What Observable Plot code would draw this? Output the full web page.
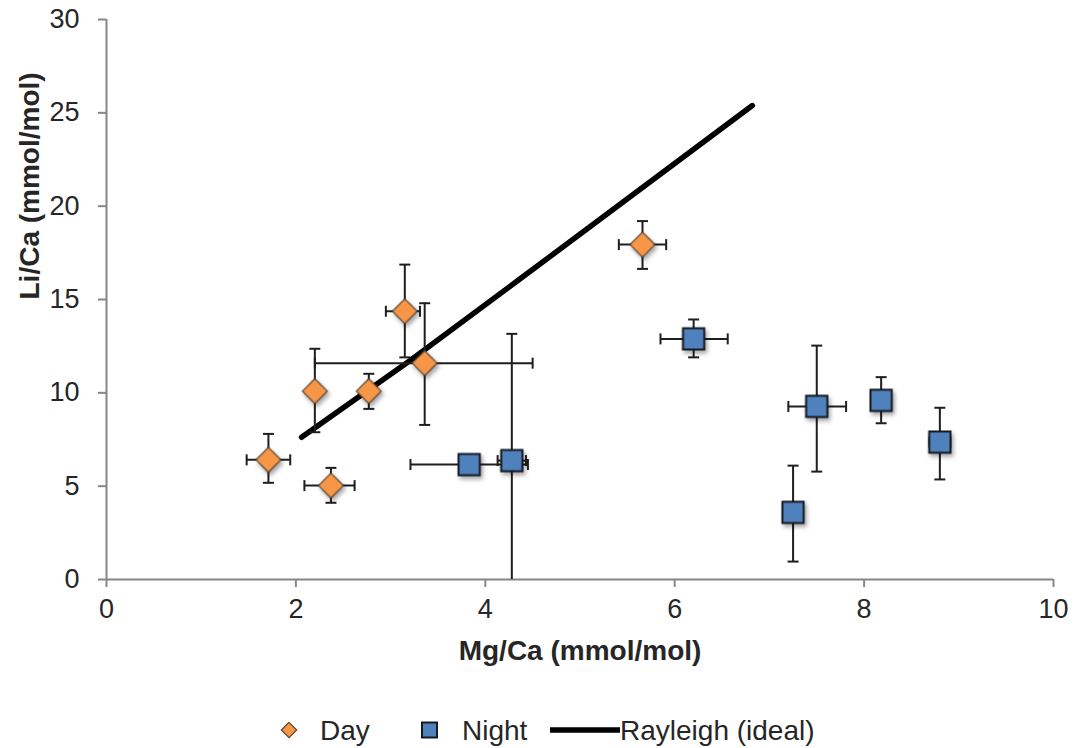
<!DOCTYPE html>
<html>
<head>
<meta charset="utf-8">
<script src="https://cdn.jsdelivr.net/npm/d3@7"></script>
<script src="https://cdn.jsdelivr.net/npm/@observablehq/plot@0.6"></script>
<style>
  html, body { margin: 0; padding: 0; background: #fff; }
  #chart { width: 1078px; }
  svg { display: block; }
</style>
</head>
<body>
<div id="chart"></div>
<script>
// ---- Data ----
const xTicks = [0, 2, 4, 6, 8, 10];
const yTicks = [0, 5, 10, 15, 20, 25, 30];

// Day series
const dayMg    = [1.71, 2.37, 2.20, 2.77, 3.15, 3.36, 5.66];
const dayLi    = [6.41, 5.03, 10.09, 10.09, 14.37, 11.59, 17.94];
const dayMgLo  = [1.48, 2.09, null, null, 2.95, 2.20, 5.41];
const dayMgHi  = [1.94, 2.62, null, null, 3.31, 4.50, 5.91];
const dayLiLo  = [5.18, 4.11, 7.89, 9.14, 11.90, 8.28, 16.64];
const dayLiHi  = [7.80, 5.98, 12.36, 11.02, 16.87, 14.80, 19.20];

// Night series
const nightMg   = [3.83, 4.28, 6.20, 7.25, 7.50, 8.18, 8.80];
const nightLi   = [6.16, 6.37, 12.89, 3.59, 9.27, 9.59, 7.36];
const nightMgLo = [3.21, 4.13, 5.85, null, 7.20, null, 8.69];
const nightMgHi = [4.45, 4.43, 6.56, null, 7.81, null, 8.91];
const nightLiLo = [null, -0.42, 11.90, 0.96, 5.78, 8.37, 5.36];
const nightLiHi = [null, 13.16, 13.93, 6.10, 12.53, 10.84, 9.20];

// Rayleigh (ideal) line
const rayMg = [2.06, 3.21, 4.34, 6.82];
const rayLi = [7.62, 11.75, 16.00, 25.39];

const seriesNames = ["Day", "Night", "Rayleigh (ideal)"];

// ---- Build tables ----
function rows(mg, li, mgLo, mgHi, liLo, liHi) {
  return mg.map((x, i) => ({x, y: li[i], xlo: mgLo[i], xhi: mgHi[i], ylo: liLo[i], yhi: liHi[i]}));
}
const day = rows(dayMg, dayLi, dayMgLo, dayMgHi, dayLiLo, dayLiHi);
const night = rows(nightMg, nightLi, nightMgLo, nightMgHi, nightLiLo, nightLiHi);
const all = day.concat(night);
const ray = rayMg.map((x, i) => ({x, y: rayLi[i]}));

const vErr = all.filter(d => d.ylo != null);
const hErr = all.filter(d => d.xlo != null);
const vCaps = vErr.flatMap(d => [{x: d.x, y: d.ylo}, {x: d.x, y: d.yhi}]);
const hCaps = hErr.flatMap(d => [{x: d.xlo, y: d.y}, {x: d.xhi, y: d.y}]);

const capH = {draw(ctx) { ctx.moveTo(-5.5, 0); ctx.lineTo(5.5, 0); }};
const capV = {draw(ctx) { ctx.moveTo(0, -5.5); ctx.lineTo(0, 5.5); }};

const errColor = "#1e1e1e";
const axisColor = "#868686";
const textColor = "#262626";
const dayFill = "#F79646";
const nightFill = "#4F81BD";

const plot = Plot.plot({
  width: 1078,
  height: 690,
  marginLeft: 106,
  marginRight: 25,
  marginTop: 19,
  marginBottom: 111,
  style: {fontFamily: "'Liberation Sans', Arial, sans-serif", fontSize: "27px", color: textColor, background: "#fff"},
  x: {domain: [0, 10]},
  y: {domain: [0, 30]},
  marks: [
    Plot.axisX({ticks: xTicks, tickSize: 8, tickPadding: 11, stroke: axisColor, strokeWidth: 2, fill: textColor, label: null}),
    Plot.axisY({ticks: yTicks, tickSize: 8, tickPadding: 19, stroke: axisColor, strokeWidth: 2, fill: textColor, label: null}),
    Plot.ruleY([0], {stroke: axisColor, strokeWidth: 2}),
    Plot.ruleX([0], {stroke: axisColor, strokeWidth: 2}),
    Plot.text(["Mg/Ca (mmol/mol)"], {frameAnchor: "bottom", dy: 80, fontWeight: "bold", fontSize: 28, fill: textColor}),
    Plot.text(["Li/Ca (mmol/mol)"], {frameAnchor: "left", dx: -76, rotate: -90, fontWeight: "bold", fontSize: 28, fill: textColor}),
    Plot.line(ray, {x: "x", y: "y", stroke: "#000", strokeWidth: 5.5, strokeLinecap: "round"}),
    Plot.ruleX(vErr, {x: "x", y1: "ylo", y2: "yhi", stroke: errColor, strokeWidth: 2, clip: true}),
    Plot.ruleY(hErr, {y: "y", x1: "xlo", x2: "xhi", stroke: errColor, strokeWidth: 2, clip: true}),
    Plot.dot(vCaps, {x: "x", y: "y", symbol: capH, fill: "none", stroke: errColor, strokeWidth: 2, clip: true}),
    Plot.dot(hCaps, {x: "x", y: "y", symbol: capV, fill: "none", stroke: errColor, strokeWidth: 2, clip: true}),
    Plot.dot(day, {x: "x", y: "y", symbol: "diamond2", r: 11.2, fill: dayFill, stroke: "#5a4632", strokeWidth: 1.2}),
    Plot.dot(night, {x: "x", y: "y", symbol: "square", r: 12, fill: nightFill, stroke: "#141a22", strokeWidth: 2})
  ]
});

// soft shadows on the markers, as in the reference
plot.querySelectorAll('g[aria-label="dot"]').forEach(g => {
  const f = (g.getAttribute("fill") || "").toUpperCase();
  if (f === dayFill || f === nightFill) g.style.filter = "drop-shadow(2px 3px 2px rgba(0,0,0,0.35))";
});

document.getElementById("chart").appendChild(plot);

// ---- Legend (below the plot) ----
const leg = d3.create("svg").attr("width", 1078).attr("height", 58)
  .style("font-family", "'Liberation Sans', Arial, sans-serif").style("font-size", "28px");
const cy = 40;
leg.append("path").attr("d", d3.symbol(d3.symbolDiamond2, 150)())
  .attr("transform", `translate(289,${cy})`).attr("fill", dayFill).attr("stroke", "#5a4632").attr("stroke-width", 1.2);
leg.append("text").attr("x", 320).attr("y", 50).attr("fill", textColor).text(seriesNames[0]);
leg.append("rect").attr("x", 422).attr("y", cy - 7.5).attr("width", 15).attr("height", 15)
  .attr("fill", nightFill).attr("stroke", "#141a22").attr("stroke-width", 2);
leg.append("text").attr("x", 462).attr("y", 50).attr("fill", textColor).text(seriesNames[1]);
leg.append("line").attr("x1", 550).attr("x2", 620).attr("y1", cy).attr("y2", cy)
  .attr("stroke", "#000").attr("stroke-width", 5.5);
leg.append("text").attr("x", 620).attr("y", 50).attr("fill", textColor).text(seriesNames[2]);
document.getElementById("chart").appendChild(leg.node());
</script>
</body>
</html>
